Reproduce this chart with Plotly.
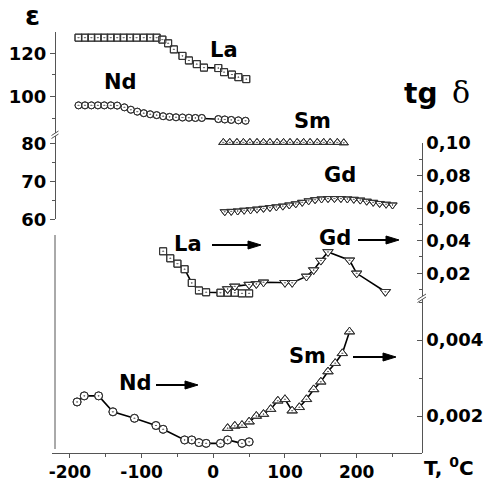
import plotly.graph_objects as go

W, H = 483, 482

# ---------------- data ----------------
# dielectric permittivity (epsilon)
La_eps_T = [-188, -179, -170, -161, -152, -143, -134, -125, -116, -107, -97, -88, -79,
            -71, -63, -55, -43, -34, -23, -13, 7, 15, 26, 35, 46]
La_eps = [127.2, 127.2, 127.2, 127.2, 127.2, 127.2, 127.2, 127.2, 127.2, 127.2, 127.2, 127.2, 127.2,
          126.3, 124.6, 121.8, 118.8, 116.7, 115.0, 113.4, 113.2, 111.3, 110.2, 109.0, 108.1]

Nd_eps_T = [-188, -179, -170, -161, -152, -143, -134, -124, -115, -106, -97, -88, -79,
            -70, -61, -52, -43, -34, -25, -16, 7, 16, 25, 35, 45]
Nd_eps = [96.0, 96.0, 96.0, 96.0, 96.0, 96.0, 95.9, 95.1, 94.0, 93.1, 92.4, 91.9, 91.5,
          91.0, 90.7, 90.5, 90.4, 90.3, 90.2, 90.2, 89.7, 89.5, 89.3, 89.1, 88.9]

Sm_eps_T = [14, 23, 33, 42, 51, 61, 70, 79, 89, 98, 107, 117, 126, 135, 145, 154, 163, 173, 182]
Sm_eps = [80.4, 80.4, 80.4, 80.4, 80.4, 80.4, 80.4, 80.4, 80.4, 80.4, 80.4, 80.4, 80.4,
          80.4, 80.4, 80.4, 80.4, 80.4, 80.3]

Gd_eps_T = [16, 25, 34, 43, 52, 61, 70, 79, 88, 97, 106, 115, 124, 133, 142, 151, 160,
            169, 178, 187, 196, 205, 214, 223, 232, 241, 250]
Gd_eps = [62.0, 62.1, 62.2, 62.4, 62.5, 62.7, 62.9, 63.1, 63.3, 63.5, 63.8, 64.1, 64.5, 64.9,
          65.2, 65.4, 65.5, 65.5, 65.5, 65.4, 65.3, 65.1, 64.8, 64.5, 64.2, 64.0, 63.8]

# loss tangent (tg delta), upper scale
La_tg_T = [-70, -60, -50, -40, -30, -20, -10, 10, 20, 30, 40, 50]
La_tg = [0.0335, 0.0292, 0.0259, 0.0225, 0.0141, 0.0095, 0.0084, 0.0081, 0.0081, 0.0081, 0.0077, 0.0077]

Gd_tg_T = [20, 30, 50, 60, 70, 100, 110, 130, 140, 150, 160, 190, 200, 240]
Gd_tg = [0.0104, 0.0120, 0.0131, 0.0135, 0.0145, 0.0142, 0.0142, 0.0181, 0.0220, 0.0278,
         0.0331, 0.0280, 0.0200, 0.0087]

# loss tangent (tg delta), lower scale
Nd_tg_T = [-190, -180, -160, -140, -110, -80, -70, -40, -30, -20, -10, 10, 20, 40, 50]
Nd_tg = [0.00237, 0.00253, 0.00253, 0.00211, 0.00194, 0.00175, 0.00165, 0.00137, 0.00137,
         0.00130, 0.00128, 0.00128, 0.00137, 0.00128, 0.00132]

Sm_tg_T = [20, 30, 40, 50, 60, 70, 80, 90, 100, 110, 120, 130, 140, 150, 160, 170, 180, 190]
Sm_tg = [0.00168, 0.00174, 0.00176, 0.00185, 0.00200, 0.00205, 0.00218, 0.00240, 0.00244,
         0.00214, 0.00223, 0.00244, 0.00270, 0.00290, 0.00317, 0.00339, 0.00365, 0.00422]

# tick labels
x_tickvals = [-200, -100, 0, 100, 200]
x_ticktext = ['-200', '-100', '0', '100', '200']
eps_hi_tickvals = [100, 120]
eps_hi_ticktext = ['100', '120']
eps_lo_tickvals = [60, 70, 80]
eps_lo_ticktext = ['60', '70', '80']
tg_hi_tickvals = [0.02, 0.04, 0.06, 0.08, 0.10]
tg_hi_ticktext = ['0,02', '0,04', '0,06', '0,08', '0,10']
tg_lo_tickvals = [0.002, 0.004]
tg_lo_ticktext = ['0,002', '0,004']


# ---------------- helpers ----------------
def PX(x):
    return x / W


def PY(y):
    return 1 - y / H


fig = go.Figure()
MC = '#333333'


def add_series(T, V, yaxis, symbol, size):
    fig.add_trace(go.Scatter(
        x=T, y=V, xaxis='x', yaxis=yaxis, mode='lines+markers',
        line=dict(color='black', width=1.6),
        marker=dict(symbol=symbol, size=size, color='white', line=dict(color=MC, width=1)),
        showlegend=False, hoverinfo='skip', cliponaxis=False))
    fig.add_trace(go.Scatter(
        x=T, y=V, xaxis='x', yaxis=yaxis, mode='markers',
        marker=dict(symbol=symbol + '-open-dot', size=size, color=MC, line=dict(width=1)),
        showlegend=False, hoverinfo='skip', cliponaxis=False))


add_series(La_eps_T, La_eps, 'y', 'square', 7)
add_series(Nd_eps_T, Nd_eps, 'y', 'circle', 7)
add_series(Sm_eps_T, Sm_eps, 'y2', 'triangle-up', 8)
add_series(Gd_eps_T, Gd_eps, 'y2', 'triangle-down', 8)
add_series(La_tg_T, La_tg, 'y3', 'square', 7)
add_series(Gd_tg_T, Gd_tg, 'y3', 'triangle-down', 9)
add_series(Nd_tg_T, Nd_tg, 'y4', 'circle', 8)
add_series(Sm_tg_T, Sm_tg, 'y4', 'triangle-up', 9)

AX = '#555555'
TF = dict(family='DejaVu Sans', size=18, color='black', weight='bold')
TFX = dict(family='DejaVu Sans', size=17, color='black', weight='bold')
common = dict(showline=True, linecolor=AX, linewidth=1, tickcolor=AX, showgrid=False,
              zeroline=False, automargin=False, fixedrange=True)

fig.update_layout(
    width=W, height=H, autosize=False,
    margin=dict(l=0, r=0, t=0, b=0),
    paper_bgcolor='white', plot_bgcolor='rgba(0,0,0,0)',
    xaxis=dict(domain=[PX(51.7), PX(421.7)], range=[-225.4, 290.7], anchor='free',
               position=PY(452.7), ticks='outside', ticklen=4, tickfont=TFX,
               tickvals=x_tickvals, ticktext=x_ticktext,
               minor=dict(tickvals=[-150, -50, 50, 150, 250], ticks='outside', ticklen=3,
                          tickcolor=AX), **common),
    yaxis=dict(domain=[PY(133), PY(31.7)], range=[83.27, 129.95], anchor='free',
               position=PX(55), side='left', ticks='outside', ticklen=5, tickfont=TF,
               tickvals=eps_hi_tickvals, ticktext=eps_hi_ticktext,
               minor=dict(tickvals=[90, 110, 130], ticks='outside', ticklen=3, tickcolor=AX),
               **common),
    yaxis2=dict(domain=[PY(219.3), PY(136)], range=[60, 82.1], anchor='free',
                position=PX(55), side='left', ticks='outside', ticklen=5, tickfont=TF,
                tickvals=eps_lo_tickvals, ticktext=eps_lo_ticktext,
                minor=dict(tickvals=[65, 75], ticks='outside', ticklen=3, tickcolor=AX),
                **common),
    yaxis3=dict(domain=[PY(296), PY(142.7)], range=[0.0061, 0.10], anchor='free',
                position=PX(421.7), side='right', ticks='inside', ticklen=5, tickfont=TF,
                tickvals=tg_hi_tickvals, ticktext=tg_hi_ticktext,
                minor=dict(tickvals=[0.01, 0.03, 0.05, 0.07, 0.09], ticks='inside', ticklen=3,
                           tickcolor=AX),
                **common),
    yaxis4=dict(domain=[PY(452.7), PY(299)], range=[0.001034, 0.00508], anchor='free',
                position=PX(421.7), side='right', ticks='inside', ticklen=5, tickfont=TF,
                tickvals=tg_lo_tickvals, ticktext=tg_lo_ticktext,
                minor=dict(tickvals=[0.003, 0.005], ticks='inside', ticklen=3, tickcolor=AX),
                **common),
)

# ---------------- shapes: breaks, lower-left frame line, arrows ----------------
shapes = []


def seg(x0, y0, x1, y1, color=AX, width=1):
    shapes.append(dict(type='line', xref='paper', yref='paper',
                       x0=PX(x0), y0=PY(y0), x1=PX(x1), y1=PY(y1),
                       line=dict(color=color, width=width)))


def arrow(x0, x1, y):
    seg(x0, y, x1 - 8, y, color='black', width=2.2)
    path = 'M %f %f L %f %f L %f %f Z' % (PX(x1 - 13), PY(y - 4), PX(x1), PY(y),
                                          PX(x1 - 13), PY(y + 4))
    shapes.append(dict(type='path', xref='paper', yref='paper', path=path,
                       fillcolor='black', line=dict(color='black', width=1)))


seg(55, 235, 55, 449)
# axis break on epsilon axis
seg(51.5, 135.5, 58.5, 131.0)
seg(51.5, 138.5, 58.5, 134.0)
# axis break on tg delta axis
seg(417.5, 299.5, 426, 294.0)
seg(417.5, 302.5, 426, 297.0)
arrow(212, 261, 245)
arrow(358, 399, 240)
arrow(156, 198, 385)
arrow(353, 396, 357)
fig.update_layout(shapes=shapes)

# ---------------- annotations ----------------
ann = []


def label(text, x, y, size=21, xanchor='center', family='DejaVu Sans', bold=True):
    ann.append(dict(text=('<b>%s</b>' % text) if bold else text, x=PX(x), y=PY(y),
                    xref='paper', yref='paper', showarrow=False, xanchor=xanchor,
                    yanchor='middle', font=dict(family=family, size=size, color='black')))


label('ε', 32, 16, size=27)
label('La', 224, 50)
label('Nd', 120, 82)
label('Sm', 312, 121)
label('Gd', 340, 175)
label('tg', 420, 94, size=28)
label('δ', 461, 93, size=30, family='DejaVu Serif', bold=False)
label('La', 188, 244)
label('Gd', 335, 238)
label('Nd', 135, 383)
label('Sm', 307, 356)
label('T, <sup>0</sup>C', 422, 467, size=20, xanchor='left')
fig.update_layout(annotations=ann)

fig.write_html('out.html', config={'displayModeBar': False},
               post_script="document.body.style.margin='0';")
